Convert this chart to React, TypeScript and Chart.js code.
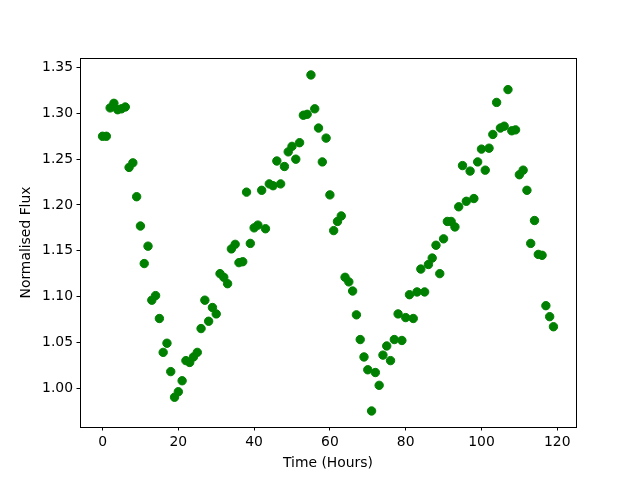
import React, { useEffect, useRef } from "react";
import { Chart, registerables } from "chart.js";

Chart.register(...registerables);

const hours = [
  0, 1, 2, 3, 4, 5, 6, 7, 8, 9, 10, 11, 12, 13, 14, 15, 16, 17, 18, 19,
  20, 21, 22, 23, 24, 25, 26, 27, 28, 29, 30, 31, 32, 33, 34, 35, 36, 37, 38, 39,
  40, 41, 42, 43, 44, 45, 46, 47, 48, 49, 50, 51, 52, 53, 54, 55, 56, 57, 58, 59,
  60, 61, 62, 63, 64, 65, 66, 67, 68, 69, 70, 71, 72, 73, 74, 75, 76, 77, 78, 79,
  80, 81, 82, 83, 84, 85, 86, 87, 88, 89, 90, 91, 92, 93, 94, 95, 96, 97, 98, 99,
  100, 101, 102, 103, 104, 105, 106, 107, 108, 109, 110, 111, 112, 113, 114, 115, 116, 117, 118, 119,
];

const flux = [
  1.275, 1.275, 1.306, 1.311, 1.304, 1.305, 1.307, 1.241, 1.246, 1.209,
  1.177, 1.136, 1.155, 1.096, 1.101, 1.076, 1.039, 1.049, 1.018, 0.990,
  0.996, 1.008, 1.030, 1.028, 1.034, 1.039, 1.065, 1.096, 1.073, 1.088,
  1.081, 1.125, 1.121, 1.114, 1.152, 1.157, 1.137, 1.138, 1.214, 1.158,
  1.175, 1.178, 1.216, 1.174, 1.223, 1.221, 1.248, 1.223, 1.242, 1.258,
  1.264, 1.250, 1.268, 1.298, 1.299, 1.342, 1.305, 1.284, 1.247, 1.273,
  1.211, 1.172, 1.182, 1.188, 1.121, 1.116, 1.106, 1.080, 1.053, 1.034,
  1.020, 0.975, 1.017, 1.003, 1.036, 1.046, 1.030, 1.053, 1.081, 1.052,
  1.077, 1.102, 1.076, 1.105, 1.130, 1.105, 1.135, 1.142, 1.156, 1.125,
  1.163, 1.182, 1.182, 1.176, 1.198, 1.243, 1.204, 1.237, 1.207, 1.247,
  1.261, 1.238, 1.262, 1.277, 1.312, 1.284, 1.286, 1.326, 1.281, 1.282,
  1.233, 1.238, 1.216, 1.158, 1.183, 1.146, 1.145, 1.090, 1.078, 1.067,
];

const xTicks = [0, 20, 40, 60, 80, 100, 120];
const yTicks = [1.0, 1.05, 1.1, 1.15, 1.2, 1.25, 1.3, 1.35];

const xTitle = "Time (Hours)";
const yTitle = "Normalised Flux";

const FONT = "'DejaVu Sans', sans-serif";

const framePlugin = {
  id: "frame",
  afterDatasetsDraw(chart: any) {
    const { ctx, chartArea } = chart;
    ctx.save();
    ctx.strokeStyle = "#000";
    ctx.lineWidth = 1;
    ctx.strokeRect(
      Math.round(chartArea.left) + 0.5,
      Math.round(chartArea.top) + 0.5,
      Math.round(chartArea.right - chartArea.left),
      Math.round(chartArea.bottom - chartArea.top)
    );
    ctx.restore();
  },
};

export default function App() {
  const ref = useRef<HTMLCanvasElement | null>(null);

  useEffect(() => {
    if (!ref.current) return;
    const data = hours.map((h, i) => ({ x: h, y: flux[i] }));
    const chart = new Chart(ref.current, {
      type: "scatter",
      data: {
        datasets: [
          {
            data,
            backgroundColor: "#008000",
            borderColor: "#008000",
            borderWidth: 1,
            pointRadius: 4.2,
            pointHoverRadius: 4.2,
          },
        ],
      },
      plugins: [framePlugin],
      options: {
        responsive: false,
        animation: false,
        events: [],
        layout: { padding: { top: 58, right: 64, left: 0, bottom: 0 } },
        plugins: { legend: { display: false }, tooltip: { enabled: false } },
        scales: {
          x: {
            type: "linear",
            min: -5.95,
            max: 124.95,
            afterBuildTicks: (s: any) => {
              s.ticks = xTicks.map((v) => ({ value: v }));
            },
            afterFit: (s: any) => {
              s.height = 53;
            },
            ticks: {
              color: "#000",
              font: { family: FONT, size: 13.9 },
              padding: 3.5,
              maxRotation: 0,
              callback: (v: any) => String(v),
            },
            grid: {
              drawOnChartArea: false,
              drawTicks: true,
              tickLength: 3.5,
              color: "#000",
            },
            border: { display: true, color: "#000", width: 1 },
            title: {
              display: true,
              text: xTitle,
              color: "#000",
              font: { family: FONT, size: 13.9 },
              padding: { top: 0, bottom: 8.6 },
            },
          },
          y: {
            type: "linear",
            min: 0.9575,
            max: 1.3605,
            afterBuildTicks: (s: any) => {
              s.ticks = yTicks.map((v) => ({ value: v }));
            },
            afterFit: (s: any) => {
              s.width = 80;
            },
            ticks: {
              color: "#000",
              font: { family: FONT, size: 13.9 },
              padding: 3.5,
              callback: (v: any) => Number(v).toFixed(2),
            },
            grid: {
              drawOnChartArea: false,
              drawTicks: true,
              tickLength: 3.5,
              color: "#000",
            },
            border: { display: true, color: "#000", width: 1 },
            title: {
              display: true,
              text: yTitle,
              color: "#000",
              font: { family: FONT, size: 13.9 },
              padding: { top: 17.6, bottom: 0 },
            },
          },
        },
      },
    } as any);
    return () => chart.destroy();
  }, []);

  return (
    <div style={{ position: "fixed", left: 0, top: 0, width: 640, height: 480, background: "#fff" }}>
      <canvas ref={ref} width={640} height={480} style={{ display: "block" }} />
    </div>
  );
}
